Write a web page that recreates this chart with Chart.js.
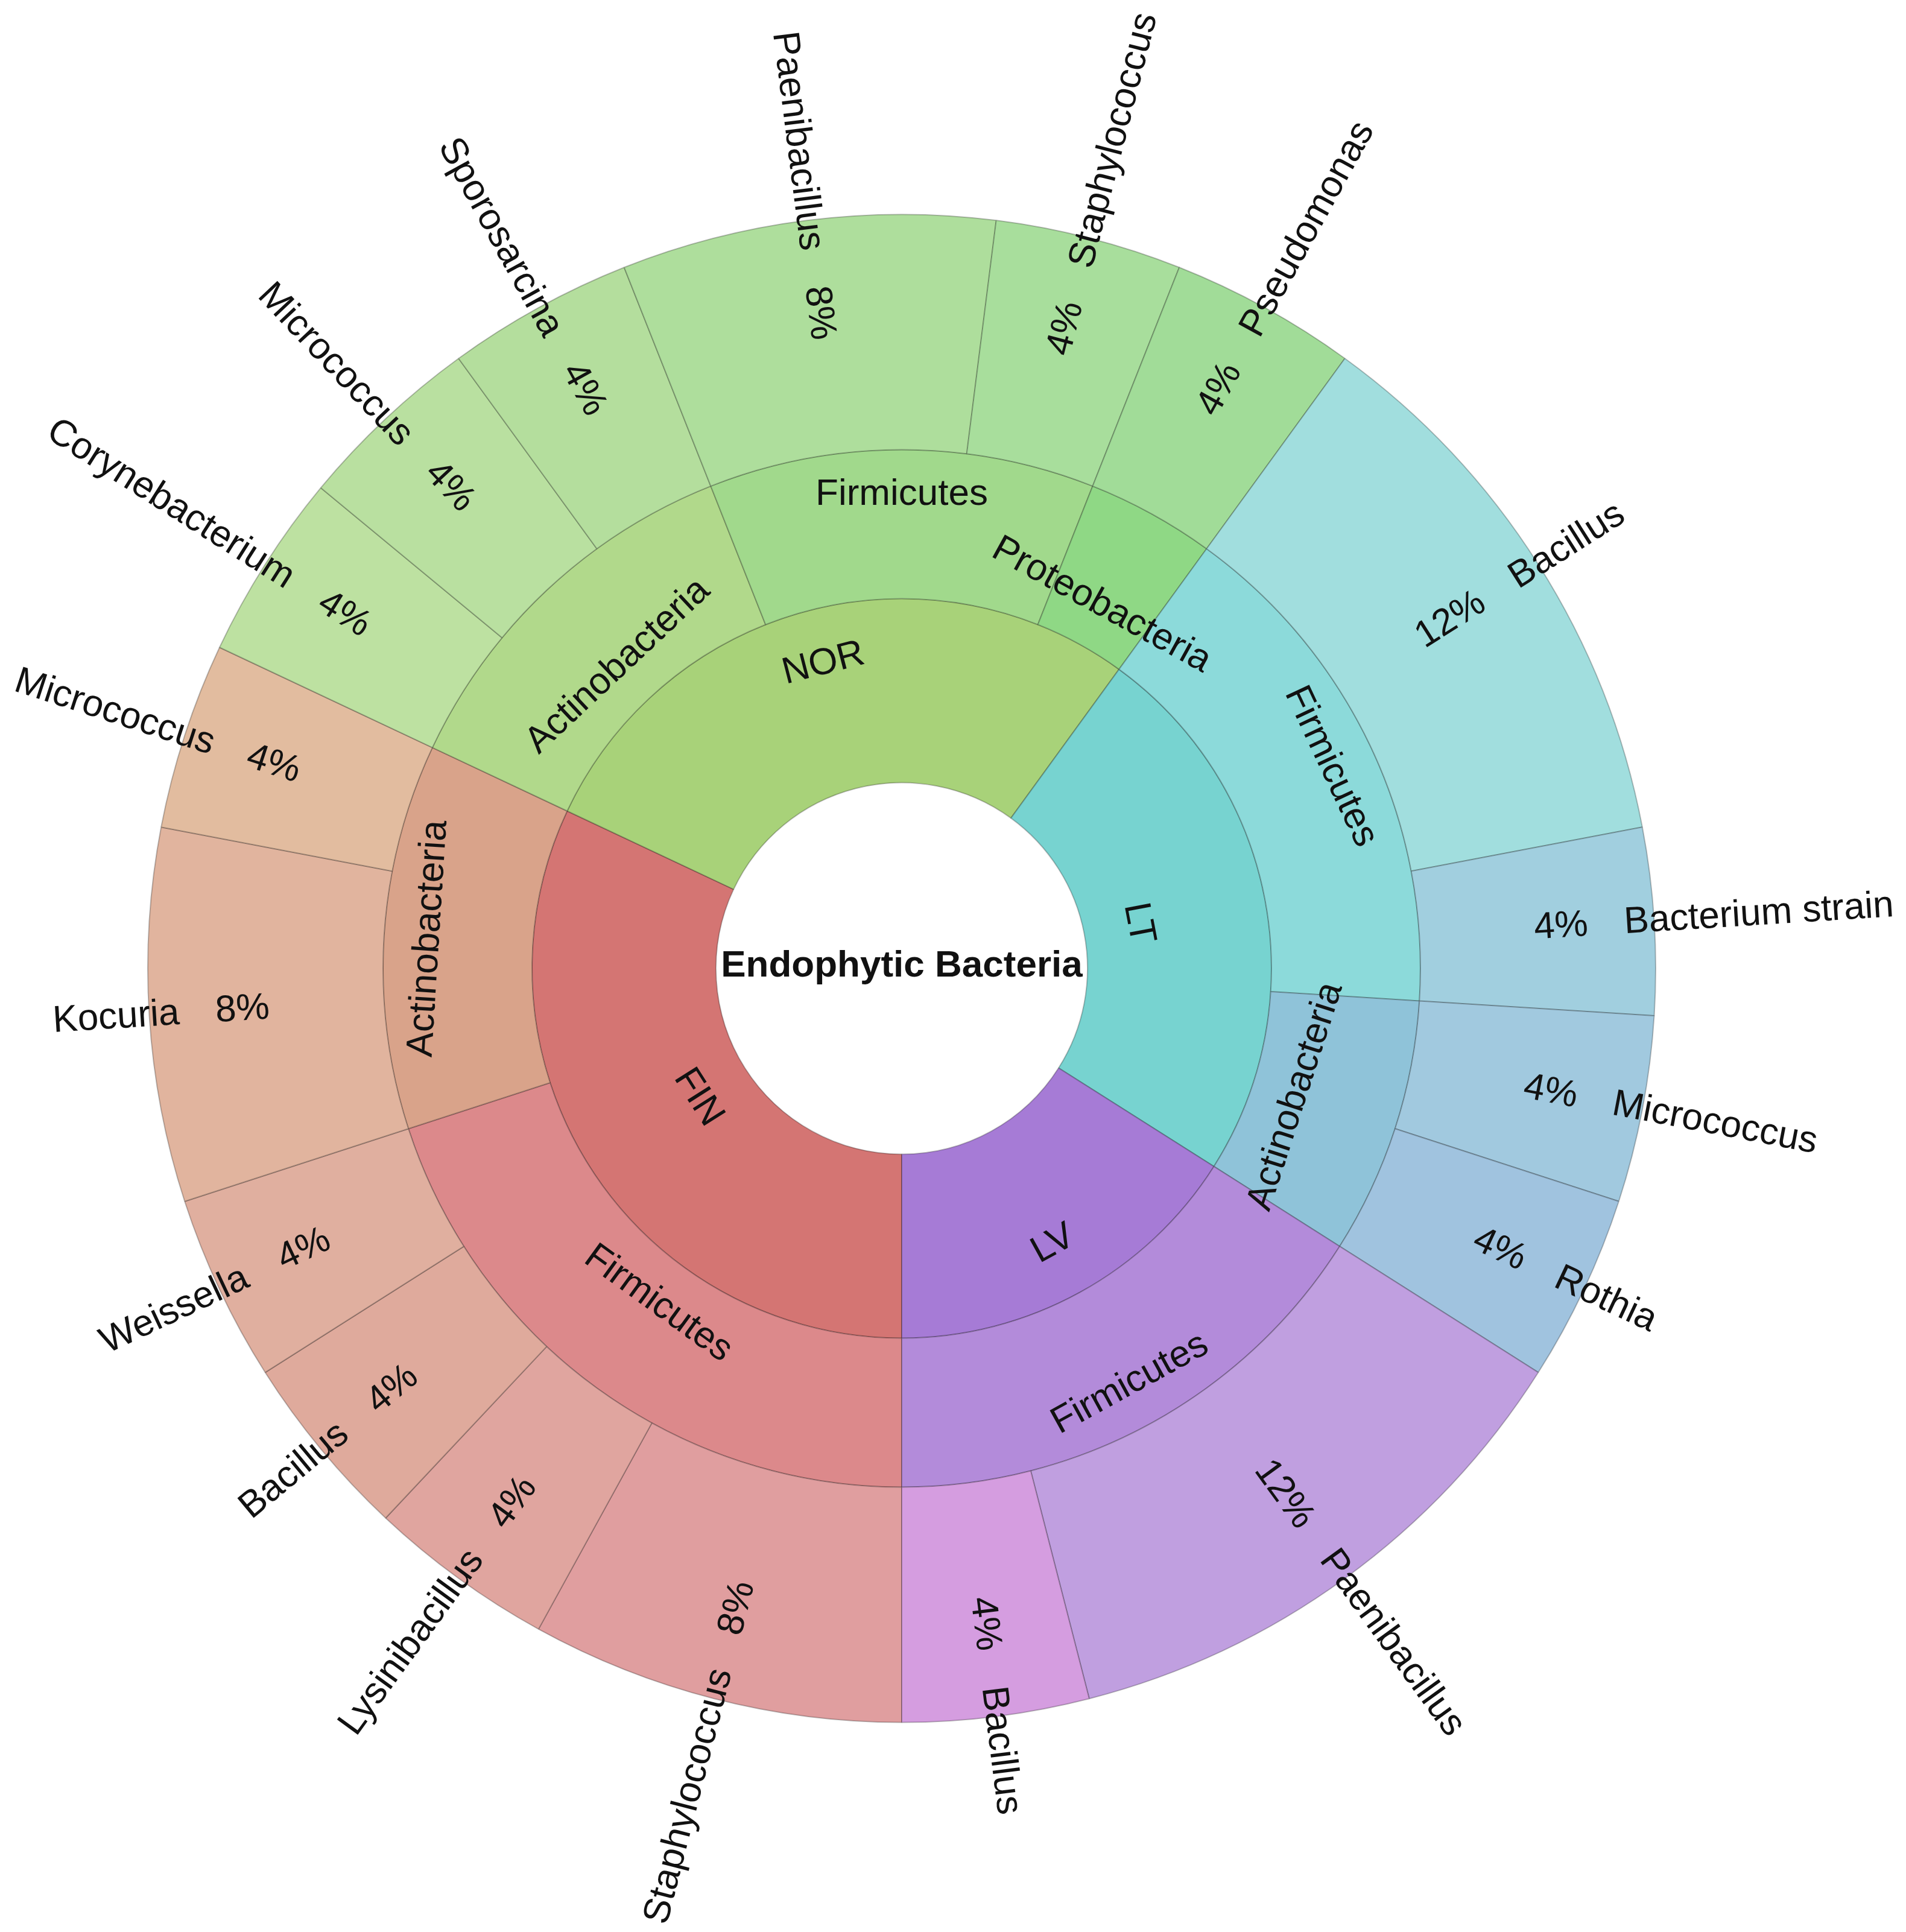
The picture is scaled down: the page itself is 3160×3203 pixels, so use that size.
<!DOCTYPE html>
<html lang="en">
<head>
<meta charset="utf-8">
<title>Endophytic Bacteria</title>
<script src="https://cdn.jsdelivr.net/npm/chart.js@4.4.1/dist/chart.umd.min.js"></script>
<style>
  html, body { margin: 0; padding: 0; background: #ffffff; }
  #wrap { width: 3160px; height: 3203px; }
</style>
</head>
<body>
<div id="wrap"><canvas id="myChart" width="3160" height="3203"></canvas></div>
<script>
// Chart data (clockwise from the bottom of the circle)
const sites = ["FIN", "NOR", "LT", "LV"];
const siteShare = [32, 28, 24, 16];

const phyla = [
  "Firmicutes", "Actinobacteria",
  "Actinobacteria", "Firmicutes", "Proteobacteria",
  "Firmicutes", "Actinobacteria",
  "Firmicutes",
];
const phylumShare = [20, 12, 12, 12, 4, 16, 8, 16];

const genera = [
  "Staphylococcus", "Lysinibacillus", "Bacillus", "Weissella", "Kocuria", "Micrococcus",
  "Corynebacterium", "Micrococcus", "Sporosarcina", "Paenibacillus", "Staphylococcus", "Pseudomonas",
  "Bacillus", "Bacterium strain", "Micrococcus", "Rothia",
  "Paenibacillus", "Bacillus",
];
const genusShare = [8, 4, 4, 4, 8, 4, 4, 4, 4, 8, 4, 4, 12, 4, 4, 4, 12, 4];

const centerTitle = "Endophytic Bacteria";

// Colours
const siteColors = ["#D47573", "#A8D279", "#77D3D0", "#A67BD6"];
const phylumColors = [
  "#DC898B", "#D9A38A",
  "#B1D98B", "#A1D98C", "#8FD885",
  "#8CDADA", "#8FC3D9",
  "#B38BDA",
];
const genusColors = [
  "#E09E9F", "#E0A59F", "#DFAA9C", "#E0AF9F", "#E1B49E", "#E2BC9F",
  "#BDE1A1", "#B9E0A0", "#B4DE9D", "#AEDE9C", "#A8DE9C", "#A1DC98",
  "#A1DEDE", "#A1CFDF", "#A1C9DF", "#A0C3DF",
  "#C09FE0", "#D59DE0",
];

const FONT = "'Liberation Sans', Arial, sans-serif";
const FONT_SIZE = 62;
const TEXT_COLOR = "#111111";
const EDGE_COLOR = "rgba(0, 0, 0, 0.25)";

/**
 * Draws the sunburst texts: radial genus labels with shares on the outer ring,
 * tangential labels (staggered in/out) on the two inner rings, title in the hole
 */
const sunburstLabels = {
  id: "sunburstLabels",
  afterDatasetsDraw(chart) {
    const ctx = chart.ctx;
    ctx.save();
    ctx.fillStyle = TEXT_COLOR;
    ctx.textBaseline = "middle";
    ctx.font = `${FONT_SIZE}px ${FONT}`;

    // Outer ring - genus name outside, share inside, both along the radius
    const outer = chart.getDatasetMeta(0);
    outer.data.forEach((arc, i) => {
      const p = arc.getProps(["x", "y", "startAngle", "endAngle", "outerRadius"], true);
      const mid = (p.startAngle + p.endAngle) / 2;
      const rShare = p.outerRadius * 0.912;
      const rName = p.outerRadius * 0.96;
      const right = Math.cos(mid) >= 0;

      ctx.save();
      ctx.translate(p.x, p.y);
      ctx.rotate(right ? mid : mid + Math.PI);
      const dir = right ? 1 : -1;
      ctx.textAlign = right ? "right" : "left";
      ctx.fillText(`${genusShare[i]}%`, dir * rShare, 0);
      ctx.textAlign = right ? "left" : "right";
      ctx.fillText(genera[i], dir * rName, 0);
      ctx.restore();
    });

    // Middle and inner rings - tangential, alternately nudged in and out
    [[1, phyla], [2, sites]].forEach(([index, names]) => {
      const meta = chart.getDatasetMeta(index);
      meta.data.forEach((arc, i) => {
        const p = arc.getProps(
          ["x", "y", "startAngle", "endAngle", "innerRadius", "outerRadius"],
          true
        );
        const mid = (p.startAngle + p.endAngle) / 2;
        const thick = p.outerRadius - p.innerRadius;
        const r = (p.innerRadius + p.outerRadius) / 2 + (i % 2 ? 1 : -1) * 0.2 * thick;
        const upper = Math.sin(mid) < 0;

        ctx.save();
        ctx.translate(p.x + r * Math.cos(mid), p.y + r * Math.sin(mid));
        ctx.rotate(upper ? mid + Math.PI / 2 : mid - Math.PI / 2);
        ctx.textAlign = "center";
        ctx.fillText(names[i], 0, 0);
        ctx.restore();
      });
    });

    // Title in the hole
    const first = chart.getDatasetMeta(2).data[0];
    ctx.font = `bold ${FONT_SIZE}px ${FONT}`;
    ctx.textAlign = "center";
    ctx.fillText(centerTitle, first.x, first.y - 4);
    ctx.restore();
  },
};

new Chart("myChart", {
  type: "doughnut",
  data: {
    labels: genera,
    datasets: [
      {
        data: genusShare,
        backgroundColor: genusColors,
        weight: 390,
      },
      {
        data: phylumShare,
        backgroundColor: phylumColors,
        weight: 247,
      },
      {
        data: siteShare,
        backgroundColor: siteColors,
        weight: 305,
      },
    ],
  },
  options: {
    responsive: false,
    animation: false,
    rotation: 180,
    radius: 1250,
    cutout: "24.64%",
    layout: { padding: { left: 0, right: 170, top: 8, bottom: 0 } },
    elements: {
      arc: {
        borderColor: EDGE_COLOR,
        borderWidth: 2,
      },
    },
    plugins: {
      legend: { display: false },
      tooltip: { enabled: false },
    },
  },
  plugins: [sunburstLabels],
});
</script>
</body>
</html>
